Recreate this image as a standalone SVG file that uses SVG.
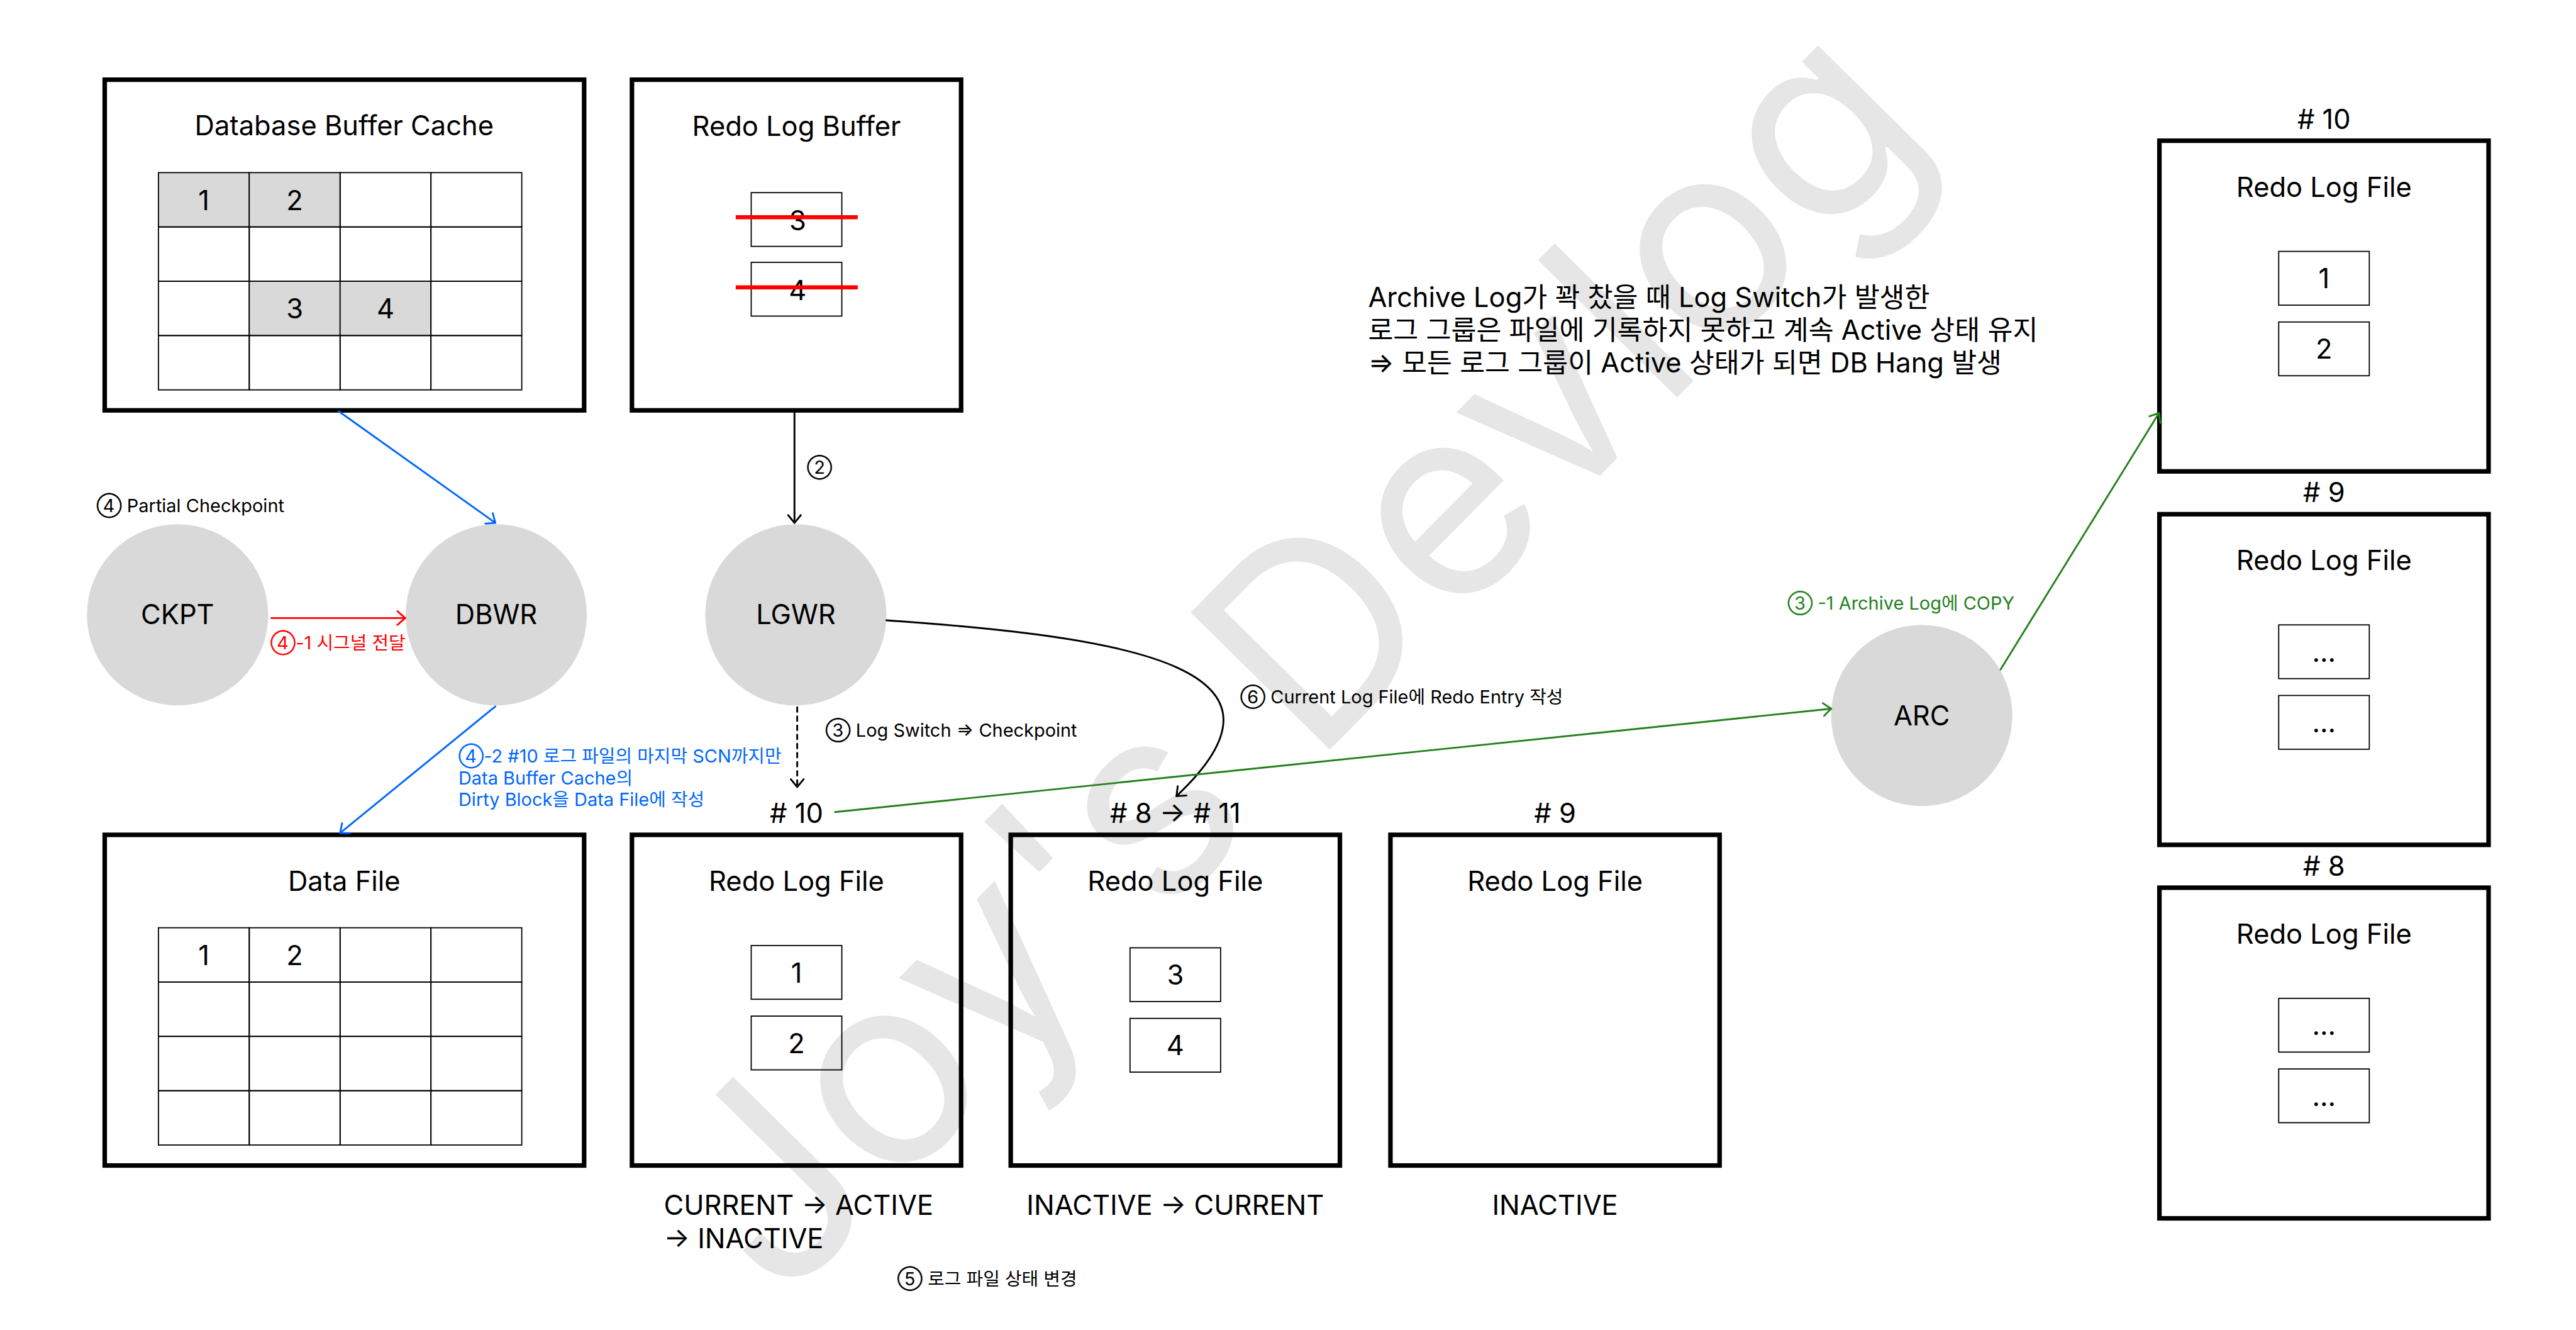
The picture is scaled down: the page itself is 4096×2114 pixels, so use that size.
<svg xmlns="http://www.w3.org/2000/svg" width="4096" height="2114" viewBox="0 0 4096 2114">
<style>
.box{fill:none;stroke:#000;stroke-width:10}
.cell{fill:none;stroke:#000;stroke-width:2.5}
.gray{fill:#d9d9d9}
.proc{fill:#d9d9d9}
text{font-family:Inter,"Noto Sans CJK KR",sans-serif;fill:#000}
.t60{font-size:60px}
.t40{font-size:40px}
.mid{text-anchor:middle}
.wm{font-size:590px;fill:#e6e6e6;text-anchor:middle}
.blue{fill:#0066ff}
.red{fill:#ff0000}
.green{fill:#24801c}
.strike{stroke:#ff0000;stroke-width:9}
.conn{fill:none;stroke-width:4;stroke-linecap:round}
</style>
<defs>
<marker id="ab" markerUnits="userSpaceOnUse" viewBox="-30 -20 40 40" markerWidth="40" markerHeight="40" refX="0" refY="0" orient="auto" overflow="visible"><path d="M-17,-14 L0,0 L-17,14" fill="none" stroke="#0066ff" stroke-width="4" stroke-linecap="round" stroke-linejoin="round"/></marker>
<marker id="ar" markerUnits="userSpaceOnUse" viewBox="-30 -20 40 40" markerWidth="40" markerHeight="40" refX="0" refY="0" orient="auto" overflow="visible"><path d="M-17,-15 L0,0 L-17,15" fill="none" stroke="#ff0000" stroke-width="4" stroke-linecap="round" stroke-linejoin="round"/></marker>
<marker id="ak" markerUnits="userSpaceOnUse" viewBox="-30 -20 40 40" markerWidth="40" markerHeight="40" refX="0" refY="0" orient="auto" overflow="visible"><path d="M-17,-14 L0,0 L-17,14" fill="none" stroke="#000" stroke-width="4" stroke-linecap="round" stroke-linejoin="round"/></marker>
<marker id="ag" markerUnits="userSpaceOnUse" viewBox="-30 -20 40 40" markerWidth="40" markerHeight="40" refX="0" refY="0" orient="auto" overflow="visible"><path d="M-17,-14 L0,0 L-17,14" fill="none" stroke="#24801c" stroke-width="4" stroke-linecap="round" stroke-linejoin="round"/></marker>
</defs>
<rect width="4096" height="2114" fill="#fff"/>
<g transform="scale(0.723930)">
<text class="wm" transform="translate(2985,1581) rotate(-45.4)">Joy's Devlog</text>

<g id="db-buffer-cache">
<rect class="box" x="230" y="175" width="1053" height="726"/>
<text class="t60 mid" x="756" y="297">Database Buffer Cache</text>
<rect class="cell gray" x="348" y="379" width="199.5" height="119.25"/>
<rect class="cell gray" x="547.5" y="379" width="199.5" height="119.25"/>
<rect class="cell" x="747" y="379" width="199.5" height="119.25"/>
<rect class="cell" x="946.5" y="379" width="199.5" height="119.25"/>
<rect class="cell" x="348" y="498.25" width="199.5" height="119.25"/>
<rect class="cell" x="547.5" y="498.25" width="199.5" height="119.25"/>
<rect class="cell" x="747" y="498.25" width="199.5" height="119.25"/>
<rect class="cell" x="946.5" y="498.25" width="199.5" height="119.25"/>
<rect class="cell" x="348" y="617.5" width="199.5" height="119.25"/>
<rect class="cell gray" x="547.5" y="617.5" width="199.5" height="119.25"/>
<rect class="cell gray" x="747" y="617.5" width="199.5" height="119.25"/>
<rect class="cell" x="946.5" y="617.5" width="199.5" height="119.25"/>
<rect class="cell" x="348" y="736.75" width="199.5" height="119.25"/>
<rect class="cell" x="547.5" y="736.75" width="199.5" height="119.25"/>
<rect class="cell" x="747" y="736.75" width="199.5" height="119.25"/>
<rect class="cell" x="946.5" y="736.75" width="199.5" height="119.25"/>
<text class="t60 mid" x="447.75" y="461">1</text>
<text class="t60 mid" x="647.25" y="461">2</text>
<text class="t60 mid" x="647.25" y="699">3</text>
<text class="t60 mid" x="846.75" y="699">4</text>
</g>

<g id="redo-log-buffer">
<rect class="box" x="1388" y="175" width="723" height="726"/>
<text class="t60 mid" x="1749.5" y="298">Redo Log Buffer</text>
<rect class="cell" x="1650" y="423" width="199" height="118"/>
<rect class="cell" x="1650" y="576" width="199" height="118"/>
<text class="t60 mid" x="1752" y="505">3</text>
<text class="t60 mid" x="1752" y="659">4</text>
<line class="strike" x1="1616" y1="477" x2="1884" y2="477"/>
<line class="strike" x1="1616" y1="631" x2="1884" y2="631"/>
</g>

<g id="data-file">
<rect class="box" x="230" y="1833" width="1053" height="726"/>
<text class="t60 mid" x="756" y="1956">Data File</text>
<rect class="cell" x="348" y="2037" width="199.5" height="119.25"/>
<rect class="cell" x="547.5" y="2037" width="199.5" height="119.25"/>
<rect class="cell" x="747" y="2037" width="199.5" height="119.25"/>
<rect class="cell" x="946.5" y="2037" width="199.5" height="119.25"/>
<rect class="cell" x="348" y="2156.25" width="199.5" height="119.25"/>
<rect class="cell" x="547.5" y="2156.25" width="199.5" height="119.25"/>
<rect class="cell" x="747" y="2156.25" width="199.5" height="119.25"/>
<rect class="cell" x="946.5" y="2156.25" width="199.5" height="119.25"/>
<rect class="cell" x="348" y="2275.5" width="199.5" height="119.25"/>
<rect class="cell" x="547.5" y="2275.5" width="199.5" height="119.25"/>
<rect class="cell" x="747" y="2275.5" width="199.5" height="119.25"/>
<rect class="cell" x="946.5" y="2275.5" width="199.5" height="119.25"/>
<rect class="cell" x="348" y="2394.75" width="199.5" height="119.25"/>
<rect class="cell" x="547.5" y="2394.75" width="199.5" height="119.25"/>
<rect class="cell" x="747" y="2394.75" width="199.5" height="119.25"/>
<rect class="cell" x="946.5" y="2394.75" width="199.5" height="119.25"/>
<text class="t60 mid" x="447.75" y="2119">1</text>
<text class="t60 mid" x="647.25" y="2119">2</text>
</g>

<g id="ckpt"><circle class="proc" cx="390" cy="1350" r="199"/><text class="t60 mid" x="390" y="1371">CKPT</text></g>
<g id="dbwr"><circle class="proc" cx="1090" cy="1350" r="199"/><text class="t60 mid" x="1090" y="1371">DBWR</text></g>
<g id="lgwr"><circle class="proc" cx="1748" cy="1350" r="199"/><text class="t60 mid" x="1748" y="1371">LGWR</text></g>
<g id="arc"><circle class="proc" cx="4221" cy="1571" r="199"/><text class="t60 mid" x="4221" y="1593">ARC</text></g>

<g id="redo-file-10">
<text class="t60 mid" x="1749.5" y="1807"># 10</text>
<rect class="box" x="1388" y="1833" width="723" height="726"/>
<text class="t60 mid" x="1749.5" y="1956">Redo Log File</text>
<rect class="cell" x="1650" y="2076" width="199" height="118"/>
<rect class="cell" x="1650" y="2231" width="199" height="118"/>
<text class="t60 mid" x="1749.5" y="2157">1</text>
<text class="t60 mid" x="1749.5" y="2312">2</text>
<text class="t60" x="1458" y="2667">CURRENT → ACTIVE</text>
<text class="t60" x="1458" y="2740">→ INACTIVE</text>
</g>
<g id="redo-file-8-11">
<text class="t60 mid" x="2581.5" y="1807"># 8 → # 11</text>
<rect class="box" x="2220" y="1833" width="723" height="726"/>
<text class="t60 mid" x="2581.5" y="1956">Redo Log File</text>
<rect class="cell" x="2482" y="2081" width="199" height="118"/>
<rect class="cell" x="2482" y="2236" width="199" height="118"/>
<text class="t60 mid" x="2581.5" y="2162">3</text>
<text class="t60 mid" x="2581.5" y="2317">4</text>
<text class="t60 mid" x="2581.5" y="2667">INACTIVE → CURRENT</text>
</g>
<g id="redo-file-9">
<text class="t60 mid" x="3415.5" y="1807"># 9</text>
<rect class="box" x="3054" y="1833" width="723" height="726"/>
<text class="t60 mid" x="3415.5" y="1956">Redo Log File</text>
<text class="t60 mid" x="3415.5" y="2667">INACTIVE</text>
</g>

<g id="archive-10">
<text class="t60 mid" x="5104.5" y="283"># 10</text>
<rect class="box" x="4743" y="309" width="723" height="726"/>
<text class="t60 mid" x="5104.5" y="432">Redo Log File</text>
<rect class="cell" x="5005" y="552" width="199" height="118"/>
<rect class="cell" x="5005" y="707" width="199" height="118"/>
<text class="t60 mid" x="5104.5" y="633">1</text>
<text class="t60 mid" x="5104.5" y="788">2</text>
</g>
<g id="archive-9">
<text class="t60 mid" x="5104.5" y="1103"># 9</text>
<rect class="box" x="4743" y="1129" width="723" height="726"/>
<text class="t60 mid" x="5104.5" y="1252">Redo Log File</text>
<rect class="cell" x="5005" y="1372" width="199" height="118"/>
<rect class="cell" x="5005" y="1527" width="199" height="118"/>
<text class="t60 mid" x="5104.5" y="1453">...</text>
<text class="t60 mid" x="5104.5" y="1608">...</text>
</g>
<g id="archive-8">
<text class="t60 mid" x="5104.5" y="1923"># 8</text>
<rect class="box" x="4743" y="1949" width="723" height="726"/>
<text class="t60 mid" x="5104.5" y="2072">Redo Log File</text>
<rect class="cell" x="5005" y="2192" width="199" height="118"/>
<rect class="cell" x="5005" y="2347" width="199" height="118"/>
<text class="t60 mid" x="5104.5" y="2273">...</text>
<text class="t60 mid" x="5104.5" y="2428">...</text>
</g>

<g id="connectors">
<line class="conn" stroke="#0066ff" x1="744" y1="903" x2="1088" y2="1148" marker-end="url(#ab)"/>
<line class="conn" stroke="#0066ff" x1="1088" y1="1551" x2="747" y2="1829" marker-end="url(#ab)"/>
<line class="conn" stroke="#ff0000" x1="596" y1="1357" x2="890" y2="1357" marker-end="url(#ar)"/>
<line class="conn" stroke="#000" stroke-width="3" x1="1745" y1="903" x2="1745" y2="1148" marker-end="url(#ak)"/>
<line class="conn" stroke="#000" stroke-width="3" stroke-dasharray="10 10" stroke-linecap="butt" x1="1751" y1="1553" x2="1751" y2="1728" marker-end="url(#ak)"/>
<path class="conn" stroke="#000" d="M1947,1362 C2500,1400 2880,1470 2584,1748" marker-end="url(#ak)"/>
<line class="conn" stroke="#24801c" x1="1834" y1="1783" x2="4022" y2="1556" marker-end="url(#ag)"/>
<line class="conn" stroke="#24801c" x1="4394" y1="1470" x2="4742" y2="907" marker-end="url(#ag)"/>
</g>

<g id="labels">
<text class="t40" x="212" y="1124">④ Partial Checkpoint</text>
<text class="t40 red" x="594" y="1426">④-1 시그널 전달</text>
<text class="t40 blue" x="1007" y="1674">④-2 #10 로그 파일의 마지막 SCN까지만</text>
<text class="t40 blue" x="1007" y="1722">Data Buffer Cache의</text>
<text class="t40 blue" x="1007" y="1770">Dirty Block을 Data File에 작성</text>
<text class="t40 mid" x="1800" y="1040">②</text>
<text class="t40" x="1813" y="1617">③ Log Switch ⇒ Checkpoint</text>
<text class="t40" x="2724" y="1545">⑥ Current Log File에 Redo Entry 작성</text>
<text class="t40 green" x="3926" y="1339">③ -1 Archive Log에 COPY</text>
<text class="t40" x="1971" y="2822">⑤ 로그 파일 상태 변경</text>
<text class="t60" x="3005" y="674">Archive Log가 꽉 찼을 때 Log Switch가 발생한</text>
<text class="t60" x="3005" y="746">로그 그룹은 파일에 기록하지 못하고 계속 Active 상태 유지</text>
<text class="t60" x="3005" y="818">⇒ 모든 로그 그룹이 Active 상태가 되면 DB Hang 발생</text>
</g>
</g>
</svg>
